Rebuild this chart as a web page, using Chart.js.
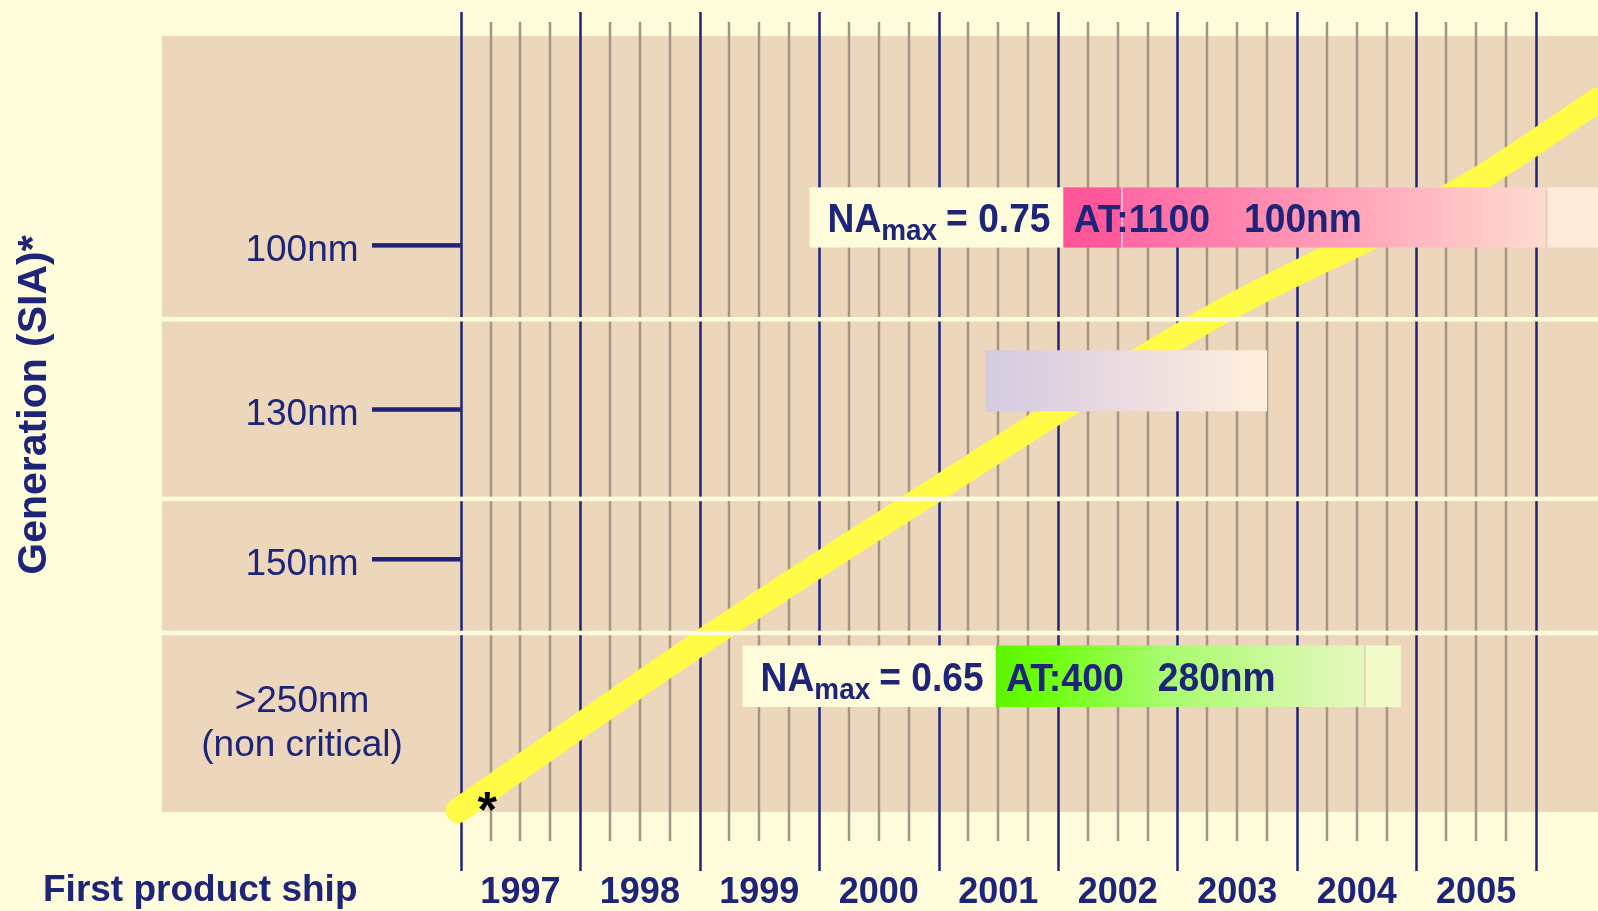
<!DOCTYPE html>
<html lang="en">
<head>
  <meta charset="UTF-8">
  <title>Generation (SIA) - first product ship</title>
  <script src="https://cdn.jsdelivr.net/npm/chart.js@4.4.1/dist/chart.umd.min.js"></script>
  <style>
    html, body { margin: 0; padding: 0; background: #fffcdc; }
    #wrap { width: 1598px; height: 911px; }
  </style>
</head>
<body>
  <div id="wrap"><canvas id="roadmap" width="1598" height="911"></canvas></div>
  <script>
    // x axis: first product ship, one column per year
    const years = [1997, 1998, 1999, 2000, 2001, 2002, 2003, 2004, 2005];

    // y axis: SIA generations on a 0..100 row scale (0 = bottom of the band)
    const genLabels = ['100nm', '130nm', '150nm', ['>250nm', '(non critical)']];
    const genRows = [73.05, 51.9, 32.6, 12.0];
    const genHasTick = [true, true, true, false];
    const rowDividers = [63.5, 40.35, 23.07];

    // yellow trend line
    const trendYears = [1996.98, 1999.13, 2000.86, 2003.25, 2005.43, 2006.52];
    const trendRows = [0.2, 23.07, 40.39, 63.43, 80.69, 91.76];

    // exposure tool bars
    const toolNames = ['AT:1100', 'AT:400'];
    const toolNodes = ['100nm', '280nm'];
    const toolNA = ['0.75', '0.65'];
    const toolLabelStart = [1999.92, 1999.36];
    const toolBarStart = [2002.045, 2001.48];
    const toolBarEnd = [2006.08, 2004.56];
    const toolTailEnd = [2006.7, 2004.87];
    const toolRowTop = [80.49, 21.46];
    const toolRowBottom = [72.74, 13.52];

    // unlabelled bar in the 130nm row
    const blankStart = [2001.39];
    const blankEnd = [2003.75];
    const blankTop = [59.5];
    const blankBottom = [51.63];

    const navy = '#1e2478';
    const cream = '#fffcdc';
    const font = '"Liberation Sans", Arial, sans-serif';

    const toolStops = [
      [[0, '#ff5598'], [0.12, '#ff5a9c'], [0.125, '#ff68a4'], [0.5, '#ff96b5'], [1, '#ffdccf']],
      [[0, '#5ef200'], [0.1, '#66ff00'], [0.45, '#a6fb6c'], [1, '#e6f9c0']]
    ];
    const toolTail = ['#ffe9d9', '#f4fbcb'];
    const toolEdge = ['#e6d0bd', '#e3d9b5'];

    // bold, slightly condensed text; returns the x where the text ends
    function cond(ctx, text, x0, y0, size, sx) {
      ctx.save();
      ctx.font = 'bold ' + size + 'px ' + font;
      ctx.textAlign = 'left';
      ctx.textBaseline = 'alphabetic';
      ctx.translate(x0, y0);
      ctx.scale(sx, 1);
      ctx.fillText(text, 0, 0);
      const w = ctx.measureText(text).width * sx;
      ctx.restore();
      return x0 + w;
    }

    function vline(ctx, xp, y0, y1) {
      ctx.beginPath();
      ctx.moveTo(xp, y0);
      ctx.lineTo(xp, y1);
      ctx.stroke();
    }

    const backdrop = {
      id: 'backdrop',
      beforeDatasetsDraw(chart) {
        const { ctx, chartArea: a, scales: { x, y } } = chart;
        ctx.save();
        ctx.fillStyle = '#ecd6bc';
        ctx.fillRect(a.left, a.top, a.right - a.left, a.bottom - a.top);

        // quarter lines
        ctx.strokeStyle = '#a39582';
        ctx.lineWidth = 2.5;
        years.forEach(yr => {
          [0.25, 0.5, 0.75].forEach(q => {
            vline(ctx, Math.round(x.getPixelForValue(yr + q)), a.top - 14, a.bottom + 29);
          });
        });

        // year boundaries
        ctx.strokeStyle = navy;
        ctx.lineWidth = 2.5;
        years.concat([years[years.length - 1] + 1]).forEach(yr => {
          vline(ctx, Math.round(x.getPixelForValue(yr)) + 0.5, a.top - 24, a.bottom + 59);
        });

        // year labels
        ctx.fillStyle = navy;
        ctx.font = 'bold 36px ' + font;
        ctx.textAlign = 'center';
        ctx.textBaseline = 'alphabetic';
        years.forEach(yr => ctx.fillText(String(yr), x.getPixelForValue(yr + 0.5), a.bottom + 91));

        ctx.font = 'bold 37px ' + font;
        ctx.textAlign = 'left';
        ctx.fillText('First product ship', 43, a.bottom + 89);

        // generation labels and ticks
        const x0 = x.getPixelForValue(years[0]);
        ctx.font = '37px ' + font;
        ctx.textAlign = 'center';
        genLabels.forEach((lab, i) => {
          const yp = y.getPixelForValue(genRows[i]);
          if (genHasTick[i]) {
            ctx.fillRect(a.left + 210, yp - 2, x0 - a.left - 210, 4.5);
          }
          const lines = Array.isArray(lab) ? lab : [lab];
          const first = yp + 15.5 - (lines.length - 1) * 22;
          lines.forEach((t, k) => ctx.fillText(t, a.left + 140, first + k * 44));
        });

        // axis title
        ctx.save();
        ctx.translate(33.5, 405);
        ctx.rotate(-Math.PI / 2);
        ctx.font = 'bold 41px ' + font;
        ctx.textAlign = 'center';
        ctx.fillText('Generation (SIA)*', 0, 12);
        ctx.restore();

        ctx.restore();
      }
    };

    const overlay = {
      id: 'overlay',
      afterDatasetsDraw(chart) {
        const { ctx, chartArea: a, scales: { x, y } } = chart;
        ctx.save();

        // row dividers
        ctx.fillStyle = cream;
        rowDividers.forEach(r => {
          ctx.fillRect(a.left, y.getPixelForValue(r) - 2.25, a.right - a.left, 4.5);
        });

        // asterisk at the start of the trend
        ctx.fillStyle = '#000000';
        ctx.font = 'bold 50px ' + font;
        ctx.textAlign = 'center';
        ctx.fillText('*', x.getPixelForValue(trendYears[0]) + 29, y.getPixelForValue(trendRows[0]) + 17);

        // blank bar
        blankStart.forEach((s, i) => {
          const l = x.getPixelForValue(s), r = x.getPixelForValue(blankEnd[i]);
          const t = y.getPixelForValue(blankTop[i]), b = y.getPixelForValue(blankBottom[i]);
          const g = ctx.createLinearGradient(l, 0, r, 0);
          g.addColorStop(0, '#d3cbe0');
          g.addColorStop(0.5, '#ecdbe0');
          g.addColorStop(1, '#fff0dd');
          ctx.fillStyle = g;
          ctx.fillRect(l, t, r - l, b - t);
        });

        // tool bars
        toolNames.forEach((name, i) => {
          const l = x.getPixelForValue(toolLabelStart[i]);
          const s = x.getPixelForValue(toolBarStart[i]);
          const e = x.getPixelForValue(toolBarEnd[i]);
          const tl = x.getPixelForValue(toolTailEnd[i]);
          const top = y.getPixelForValue(toolRowTop[i]);
          const bot = y.getPixelForValue(toolRowBottom[i]);
          const h = bot - top;

          ctx.fillStyle = cream;
          ctx.fillRect(l, top, s - l, h);
          ctx.fillStyle = toolTail[i];
          ctx.fillRect(e, top, tl - e, h);
          const g = ctx.createLinearGradient(s, 0, e, 0);
          toolStops[i].forEach(([o, c]) => g.addColorStop(o, c));
          ctx.fillStyle = g;
          ctx.fillRect(s, top, e - s, h);
          ctx.fillStyle = toolEdge[i];
          ctx.fillRect(e, top, 2, h);
          if (i === 0) {
            ctx.fillStyle = '#ffd3e2';
            ctx.fillRect(s + 0.12 * (e - s), top, 1.5, h);
          }

          const base = (top + bot) / 2 + 14.5;
          ctx.fillStyle = navy;
          let cx = cond(ctx, 'NA', l + 18, base, 40, 0.93);
          cx = cond(ctx, 'max', cx, base + 8, 30, 0.93);
          cond(ctx, '= ' + toolNA[i], cx + 9, base, 40, 0.93);
          cx = cond(ctx, name, s + 10, base, 39, 0.96);
          cond(ctx, toolNodes[i], cx + 34, base, 40, 0.93);
        });

        ctx.restore();
      }
    };

    new Chart(document.getElementById('roadmap'), {
      type: 'line',
      data: {
        datasets: [{
          data: trendYears.map((t, i) => ({ x: t, y: trendRows[i] })),
          borderColor: '#fffb46',
          borderWidth: 25,
          borderCapStyle: 'round',
          borderJoinStyle: 'round',
          pointRadius: 0,
          cubicInterpolationMode: 'monotone',
          clip: false
        }]
      },
      options: {
        responsive: false,
        animation: false,
        devicePixelRatio: 1,
        layout: { padding: { left: 162, top: 36, right: 0, bottom: 99 } },
        scales: {
          x: { type: 'linear', min: 1994.5, max: 2006.52, display: false },
          y: { type: 'linear', min: 0, max: 100, display: false }
        },
        plugins: {
          legend: { display: false },
          tooltip: { enabled: false }
        }
      },
      plugins: [backdrop, overlay]
    });
  </script>
</body>
</html>
